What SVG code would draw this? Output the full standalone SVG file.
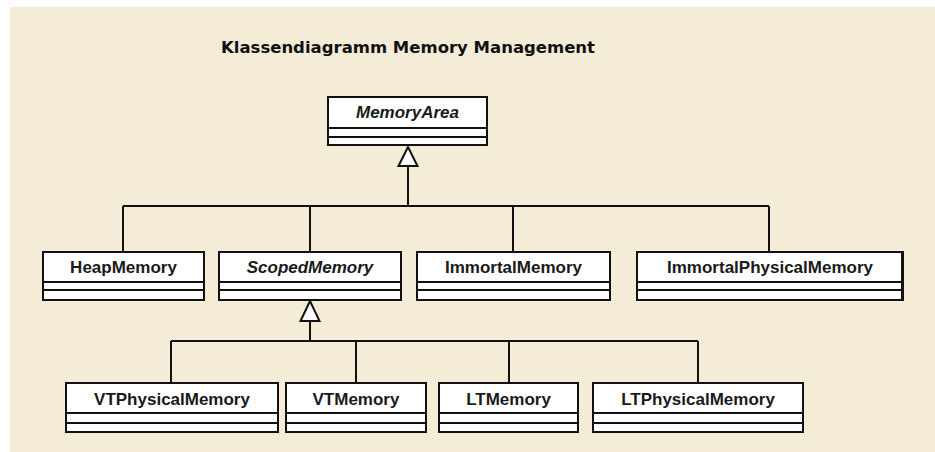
<svg xmlns="http://www.w3.org/2000/svg" width="935" height="452" viewBox="0 0 935 452">
<style>
.box rect{fill:#fff;stroke:#111;stroke-width:2}
.box line{stroke:#111;stroke-width:2}
.name{font-family:"Liberation Sans",Arial,sans-serif;font-weight:bold;font-size:17px;fill:#1a1a1a;text-anchor:middle}
.abs{font-style:italic}
.title{font-family:"DejaVu Sans",sans-serif;font-weight:bold;font-size:15px;fill:#111}
#connectors line,#connectors polyline{stroke:#111;stroke-width:2;fill:none}
#connectors polygon{fill:#fff;stroke:#111;stroke-width:2}
</style>
<rect x="10" y="7" width="925" height="445" fill="#F5ECD7"/>
<text class="title" x="221" y="53" textLength="374" lengthAdjust="spacingAndGlyphs">Klassendiagramm Memory Management</text>
<g id="connectors">
<polygon points="408,147 398.5,166 417.5,166"/>
<line x1="408" y1="166" x2="408" y2="206"/>
<line x1="123" y1="206" x2="769" y2="206"/>
<line x1="123" y1="206" x2="123" y2="252"/>
<line x1="310" y1="206" x2="310" y2="252"/>
<line x1="513" y1="206" x2="513" y2="252"/>
<line x1="769" y1="206" x2="769" y2="252"/>
<polygon points="310,301 300.5,321 319.5,321"/>
<line x1="310" y1="321" x2="310" y2="341"/>
<line x1="171" y1="341" x2="698" y2="341"/>
<line x1="171" y1="341" x2="171" y2="383"/>
<line x1="356" y1="341" x2="356" y2="383"/>
<line x1="509" y1="341" x2="509" y2="383"/>
<line x1="698" y1="341" x2="698" y2="383"/>
</g>
<g id="MemoryArea" class="box">
<rect x="328" y="97" width="159" height="48"/>
<line x1="328" y1="128" x2="487" y2="128"/><line x1="328" y1="137" x2="487" y2="137"/>
<text class="name abs" x="407.5" y="118">MemoryArea</text>
</g>
<g id="HeapMemory" class="box">
<rect x="43" y="252" width="161" height="48"/>
<line x1="43" y1="282" x2="204" y2="282"/><line x1="43" y1="290" x2="204" y2="290"/>
<text class="name" x="123.5" y="273">HeapMemory</text>
</g>
<g id="ScopedMemory" class="box">
<rect x="219" y="252" width="182" height="48"/>
<line x1="219" y1="282" x2="401" y2="282"/><line x1="219" y1="290" x2="401" y2="290"/>
<text class="name abs" x="310" y="273">ScopedMemory</text>
</g>
<g id="ImmortalMemory" class="box">
<rect x="417" y="252" width="193" height="48"/>
<line x1="417" y1="282" x2="610" y2="282"/><line x1="417" y1="290" x2="610" y2="290"/>
<text class="name" x="513.5" y="273">ImmortalMemory</text>
</g>
<g id="ImmortalPhysicalMemory" class="box">
<rect x="637" y="252" width="266" height="48"/>
<line x1="637" y1="282" x2="903" y2="282"/><line x1="637" y1="290" x2="903" y2="290"/>
<line x1="902.5" y1="252" x2="902.5" y2="300" style="stroke-width:3"/>
<text class="name" x="770" y="273">ImmortalPhysicalMemory</text>
</g>
<g id="VTPhysicalMemory" class="box">
<rect x="66" y="383" width="212" height="49"/>
<line x1="66" y1="413" x2="278" y2="413"/><line x1="66" y1="423" x2="278" y2="423"/>
<text class="name" x="172" y="405">VTPhysicalMemory</text>
</g>
<g id="VTMemory" class="box">
<rect x="286" y="383" width="140" height="49"/>
<line x1="286" y1="413" x2="426" y2="413"/><line x1="286" y1="423" x2="426" y2="423"/>
<text class="name" x="356" y="405">VTMemory</text>
</g>
<g id="LTMemory" class="box">
<rect x="439" y="383" width="139" height="49"/>
<line x1="439" y1="413" x2="578" y2="413"/><line x1="439" y1="423" x2="578" y2="423"/>
<text class="name" x="508.5" y="405">LTMemory</text>
</g>
<g id="LTPhysicalMemory" class="box">
<rect x="593" y="383" width="210" height="49"/>
<line x1="593" y1="413" x2="803" y2="413"/><line x1="593" y1="423" x2="803" y2="423"/>
<text class="name" x="698" y="405">LTPhysicalMemory</text>
</g>
</svg>
